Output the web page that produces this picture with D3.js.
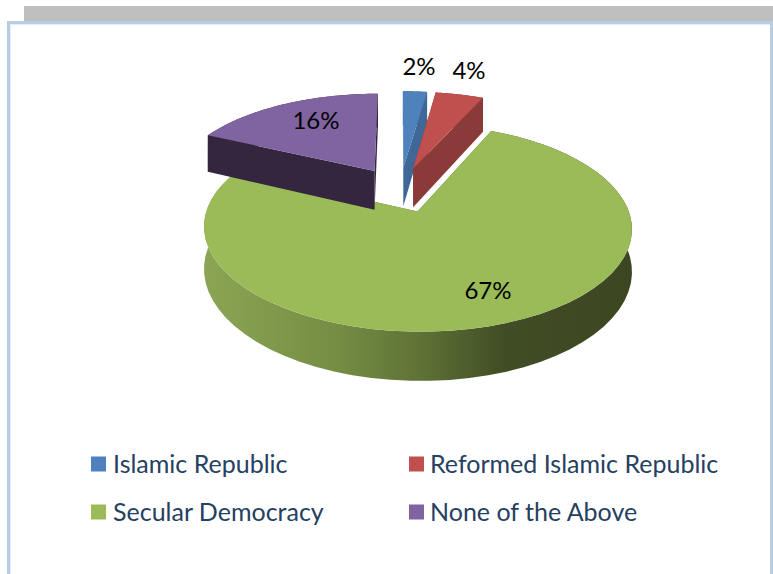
<!DOCTYPE html>
<html>
<head>
<meta charset="utf-8">
<script src="https://cdn.jsdelivr.net/npm/d3@7"></script>
<style>
  html, body { margin: 0; padding: 0; background: #fff; overflow: hidden; }
  svg { display: block; }
  text { font-family: Lato, "Open Sans", sans-serif; }
</style>
</head>
<body>
<svg id="chart" width="773" height="574"></svg>
<script>
// chart data
const categories = ['Islamic Republic', 'Reformed Islamic Republic', 'Secular Democracy', 'None of the Above'];
const values = [2, 4, 67, 16];
const topColors = ['#4f81bd', '#c0504d', '#9bbb59', '#8064a2'];
const wallColors = ['#3f6797', '#8a3a38', '#76923c', '#35263f'];

const svg = d3.select('#chart');

// page furniture behind the chart
svg.append('rect').attr('x', 24).attr('y', 6).attr('width', 749).attr('height', 15).attr('fill', '#bfbfbf');
svg.append('path')
  .attr('d', 'M8.5,574V22.5H771.5V574')
  .attr('fill', 'none').attr('stroke', '#b8cce4').attr('stroke-width', 3);
svg.append('path')
  .attr('d', 'M10.5,574V24.5H770')
  .attr('fill', 'none').attr('stroke', '#e4ecf6').attr('stroke-width', 1);

// gradient on the round side of the big slice
const grad = svg.append('defs').append('linearGradient').attr('id', 'sideGrad');
[[0, '#8ca554'], [0.3, '#768e44'], [0.5, '#5f7336'], [0.7, '#414d25'], [1, '#3c4722']].forEach(([o, c]) => {
  grad.append('stop').attr('offset', o).attr('stop-color', c);
});

// tilted pie: unit disc coordinates -> screen, with a bit of perspective
const radiusX = 204, radiusY = 94.3, persp = 0.153, explode = 0.24, depth = 40;
const xScale = d3.scaleLinear().domain([0, 1]).range([400, 400 + radiusX]);
const yScale = d3.scaleLinear().domain([0, 1]).range([189.5, 189.5 + radiusY]);

function project(u, v, down) {
  const s = 1 / (1 - persp * v);
  return [xScale(u * s), yScale(v * s) + (down ? depth * s : 0)];
}

const pieData = d3.pie().sort(null).value(d => d)(values);
const line = d3.line();

pieData.forEach((d, i) => {
  const mid = (d.startAngle + d.endAngle) / 2;
  const ou = explode * Math.sin(mid), ov = -explode * Math.cos(mid);
  const pt = (a, r, down) => project(ou + r * Math.sin(a), ov - r * Math.cos(a), down);
  const arcAngles = d3.range(0, 61).map(k => d.startAngle + (d.endAngle - d.startAngle) * k / 60);
  const g = svg.append('g');

  // cut faces
  [d.startAngle, d.endAngle].forEach(a => {
    g.append('path')
      .attr('d', line([pt(a, 0, false), pt(a, 1, false), pt(a, 1, true), pt(a, 0, true)]) + 'Z')
      .attr('fill', i === 2 ? '#4f6328' : wallColors[i]);
  });
  // round side
  const side = arcAngles.map(a => pt(a, 1, false)).concat(arcAngles.slice().reverse().map(a => pt(a, 1, true)));
  g.append('path').attr('d', line(side) + 'Z')
    .attr('fill', i === 2 ? 'url(#sideGrad)' : wallColors[i]);
  // top face
  const top = [pt(0, 0, false)].concat(arcAngles.map(a => pt(a, 1, false)));
  g.append('path').attr('d', line(top) + 'Z').attr('fill', topColors[i]);
});

// value labels
const labelSpots = [[419, 69], [469, 73], [488, 293], [316, 123]];
svg.selectAll('text.value').data(values).join('text')
  .attr('class', 'value')
  .attr('x', (d, i) => labelSpots[i][0])
  .attr('y', (d, i) => labelSpots[i][1])
  .attr('text-anchor', 'middle').attr('dominant-baseline', 'middle')
  .attr('font-size', 24).attr('fill', '#000')
  .text(d => d + '%');

// legend
const legendX = d3.scaleOrdinal().domain([0, 1]).range([91, 409]);
const legendY = d3.scaleOrdinal().domain([0, 1]).range([464, 512]);
const legend = svg.selectAll('g.legend').data(categories).join('g')
  .attr('class', 'legend')
  .attr('transform', (d, i) => `translate(${legendX(i % 2)},${legendY(Math.floor(i / 2))})`);
legend.append('rect').attr('x', 0).attr('y', -7.5).attr('width', 15).attr('height', 15)
  .attr('fill', (d, i) => topColors[i]);
legend.append('text').attr('x', (d, i) => i % 2 ? 21 : 22).attr('y', 8.5)
  .attr('font-size', 25).attr('fill', '#254061')
  .text(d => d);
</script>
</body>
</html>
